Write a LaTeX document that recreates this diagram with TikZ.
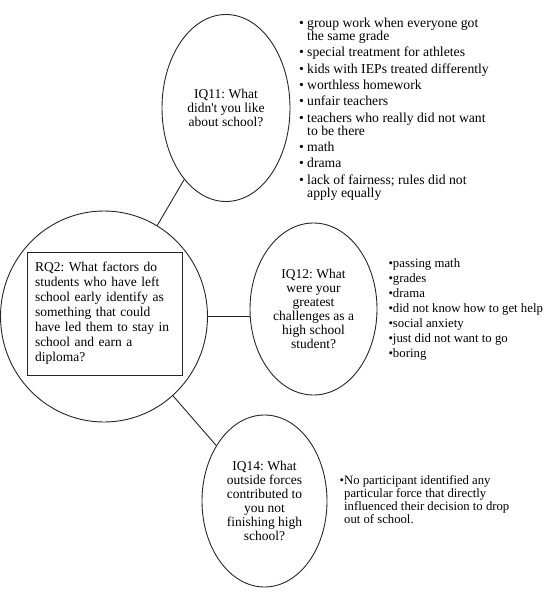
\documentclass[tikz,border=0pt]{standalone}
\usepackage{fontspec}
\setmainfont{Liberation Serif}
\usetikzlibrary{shapes.geometric}
\begin{document}
\frenchspacing
\begin{tikzpicture}[x=1pt,y=-1pt,
  conn/.style={line width=0.9pt, draw=black!85},
  oval/.style={ellipse, draw=black!85, line width=0.9pt, inner sep=0pt, align=center,
    font={\fontsize{13.5}{14}\selectfont\lineskiplimit=-20pt}},
  rqboxstyle/.style={draw=black!85, line width=0.9pt, minimum width=155pt, minimum height=123pt,
    text width=139pt, inner xsep=8pt, inner ysep=0pt, align=left,
    font={\fontsize{13.5}{15}\selectfont\lineskiplimit=-20pt}},
  listtext/.style={anchor=north west, inner sep=0pt, align=left}
]
\useasboundingbox (0,0) rectangle (552,615);

\node[oval, minimum width=207pt, minimum height=211pt] (rq) at (104,316.5) {};
\node[rqboxstyle] (rqbox) at (104.5,313.5) {RQ2: What factors do\\students who have left\\school early identify as\\something that could\\have led them to stay in\\school and earn a\\diploma?};

\node[oval, minimum width=128pt, minimum height=187pt] (iq11) at (226,108) {IQ11: What\\didn\textquotesingle t you like\\about school?};
\node[oval, minimum width=127pt, minimum height=172pt] (iq12) at (313.5,309) {IQ12: What\\were your\\greatest\\challenges as a\\high school\\student?};
\node[oval, minimum width=125pt, minimum height=172pt] (iq14) at (264.5,501) {IQ14: What\\outside forces\\contributed to\\you not\\finishing high\\school?};

\draw[conn] (rq) -- (iq11);
\draw[conn] (rq.east) -- (iq12.west |- rq.east);
\draw[conn] (rq) -- (iq14);

\node[listtext, font={\fontsize{13.7}{13}\selectfont\lineskiplimit=-20pt}] (l11) at (299,17.9) {%
\makebox[8pt][l]{•}group work when everyone got\\
\hspace*{8pt}the same grade\\[3.3pt]
\makebox[8pt][l]{•}special treatment for athletes\\[3.3pt]
\makebox[8pt][l]{•}kids with IEPs treated differently\\[3.3pt]
\makebox[8pt][l]{•}worthless homework\\[3.3pt]
\makebox[8pt][l]{•}unfair teachers\\[3.3pt]
\makebox[8pt][l]{•}teachers who really did not want\\
\hspace*{8pt}to be there\\[3.3pt]
\makebox[8pt][l]{•}math\\[3.3pt]
\makebox[8pt][l]{•}drama\\[3.3pt]
\makebox[8pt][l]{•}lack of fairness; rules did not\\
\hspace*{8pt}apply equally};

\node[listtext, font={\fontsize{12.8}{15}\selectfont\lineskiplimit=-20pt}] (l12) at (388.3,258) {%
•passing math\\
•grades\\
•drama\\
•did not know how to get help\\
•social anxiety\\
•just did not want to go\\
•boring};

\node[listtext, font={\fontsize{12.7}{13}\selectfont\lineskiplimit=-20pt}] (l14) at (339.3,475.6) {%
\makebox[4.7pt][l]{•}No participant identified any\\
\hspace*{4.7pt}particular force that directly\\
\hspace*{4.7pt}influenced their decision to drop\\
\hspace*{4.7pt}out of school.};
\end{tikzpicture}
\end{document}
